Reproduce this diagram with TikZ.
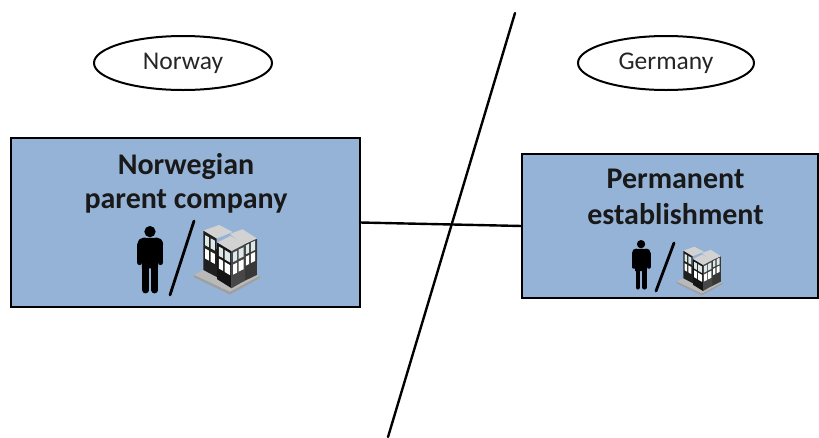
\documentclass[tikz,border=0pt]{standalone}
\usepackage{fontspec}
\setmainfont{Carlito}
\usetikzlibrary{shapes.geometric}
\definecolor{boxblue}{HTML}{95B3D7}
\definecolor{glass}{HTML}{DDE9E8}
\newcommand{\personicon}[3]{%
\begin{scope}[shift={(#1,#2)},x=#3pt,y=-#3pt]
\fill[black] (90,125) circle[radius=17];
\fill[black] (64,165) .. controls (64,150) and (72,144) .. (80,144) -- (100,144) .. controls (108,144) and (116,150) .. (116,165) -- (114,235) -- (66,235) -- cycle;
\draw[black,line cap=round,line width=#3*15pt] (60,165) .. controls (60,155) and (66,150) .. (74,150);
\draw[black,line cap=round,line width=#3*15pt] (122,165) .. controls (122,155) and (116,150) .. (108,150);
\draw[black,line cap=round,line width=#3*15pt] (60,165) -- (60,218);
\draw[black,line cap=round,line width=#3*15pt] (122,165) -- (122,218);
\draw[black,line cap=round,line width=#3*19pt] (77,200) -- (77,301);
\draw[black,line cap=round,line width=#3*19pt] (104,200) -- (104,301);
\end{scope}}
\newcommand{\buildingicon}[3]{%
\begin{scope}[shift={(#1,#2)},x=#3pt,y=-#3pt]
\fill[gray!55] (222,255) -- (250,240) -- (420,258) -- (330,306) -- cycle;
\fill[gray!75] (222,262) -- (222,255) -- (330,306) -- (420,258) -- (420,264) -- (330,314) -- cycle;
% rear-left block
\fill[gray!35] (250,122) -- (298,105) -- (338,126) -- (290,146) -- cycle;
\fill[black!88] (250,122) -- (290,146) -- (292,262) -- (250,240) -- cycle;
\fill[glass] (256,136) -- (267,142) -- (267,172) -- (256,166) -- cycle;
\fill[glass] (272,145) -- (285,152) -- (285,182) -- (272,175) -- cycle;
\fill[white] (256,176) -- (267,182) -- (267,212) -- (256,206) -- cycle;
\fill[white] (272,185) -- (285,192) -- (285,222) -- (272,215) -- cycle;
% rear-right block
\fill[gray!35] (330,132) -- (368,118) -- (412,146) -- (370,165) -- cycle;
\fill[black!78] (370,165) -- (412,146) -- (411,255) -- (370,275) -- cycle;
\fill[glass] (378,166) -- (388,161) -- (388,188) -- (378,193) -- cycle;
\fill[glass] (393,158) -- (406,152) -- (406,180) -- (393,186) -- cycle;
\fill[white] (378,200) -- (388,195) -- (388,222) -- (378,227) -- cycle;
\fill[white] (393,192) -- (406,186) -- (406,213) -- (393,219) -- cycle;
% front block
\fill[gray!35] (292,158) -- (332,138) -- (375,163) -- (335,184) -- cycle;
\fill[black!92] (292,158) -- (335,184) -- (335,295) -- (292,268) -- cycle;
\fill[black!72] (335,184) -- (375,163) -- (375,272) -- (335,295) -- cycle;
\fill[glass] (297,170) -- (310,177) -- (310,205) -- (297,198) -- cycle;
\fill[glass] (314,180) -- (331,190) -- (331,218) -- (314,208) -- cycle;
\fill[white] (297,206) -- (310,213) -- (310,243) -- (297,236) -- cycle;
\fill[white] (314,216) -- (331,226) -- (331,256) -- (314,246) -- cycle;
\fill[glass] (340,188) -- (352,182) -- (352,210) -- (340,216) -- cycle;
\fill[glass] (356,179) -- (371,172) -- (371,200) -- (356,207) -- cycle;
\fill[white] (340,224) -- (352,218) -- (352,248) -- (340,254) -- cycle;
\fill[white] (356,215) -- (371,208) -- (371,238) -- (356,245) -- cycle;
\end{scope}}
\tikzset{
  x=1pt,y=-1pt,
  bluebox/.style={draw=black,line width=1.4pt,fill=boxblue,inner sep=0pt,outer sep=0pt},
  country/.style={draw=black,line width=2pt,fill=white,ellipse,inner sep=0pt,font=\fontsize{25.5}{30}\selectfont,text=black!85},
  boxtext/.style={font=\bfseries\fontsize{30}{34}\selectfont,align=center,text=black!90,inner sep=0pt},
  boxtextb/.style={boxtext,font=\bfseries\fontsize{30}{36}\selectfont},
  rule/.style={draw=black,line width=2.4pt,line cap=round},
  slashline/.style={draw=black,line width=2.8pt,line cap=round}
}
\begin{document}
\begin{tikzpicture}
\useasboundingbox (0,0) rectangle (819,437);
\fill[white] (0,0) rectangle (819,437);
\coordinate (dtop) at (515,13);
\coordinate (dbot) at (388,437);
\draw[rule] (dtop) -- (dbot);
\node[country,minimum width=178pt,minimum height=54pt] (no) at (183,63) {Norway};
\node[country,minimum width=176pt,minimum height=54pt] (de) at (666,63) {Germany};
\node[bluebox,minimum width=349pt,minimum height=169pt] (a) at (185.5,222.5) {};
\node[bluebox,minimum width=296pt,minimum height=144pt] (b) at (670,226) {};
\node[boxtext] (at) at (186,183) {Norwegian\\parent company};
\node[boxtextb] (bt) at (675.5,197) {Permanent\\establishment};
\draw[rule] (a.east) -- (b.west);
\personicon{120}{190}{0.333}
\coordinate (s1a) at (194,221);
\coordinate (s1b) at (170,295);
\draw[slashline] (s1a) -- (s1b);
\buildingicon{120}{190}{0.333}
\personicon{619}{213.5}{0.245}
\coordinate (s2a) at (674,243);
\coordinate (s2b) at (656,291);
\draw[slashline] (s2a) -- (s2b);
\buildingicon{625}{222.3}{0.233}
\end{tikzpicture}
\end{document}
